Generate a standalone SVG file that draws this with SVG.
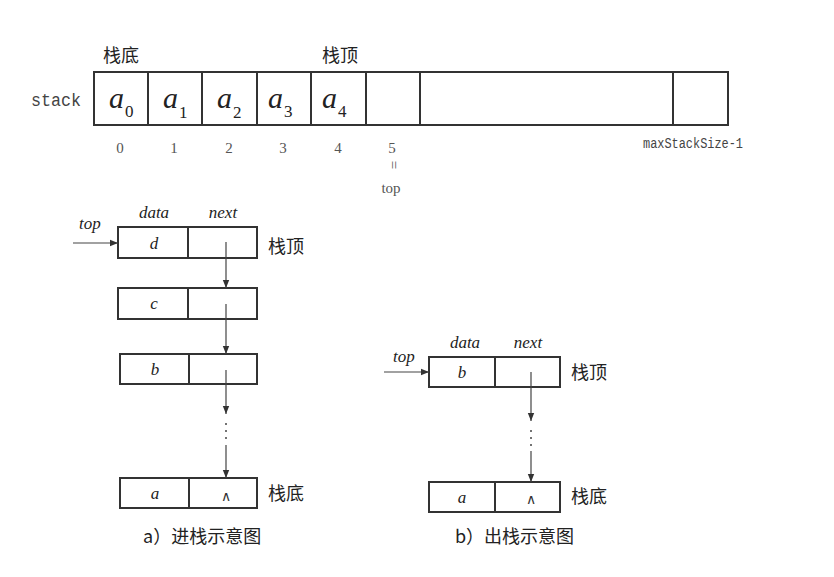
<svg xmlns="http://www.w3.org/2000/svg" width="834" height="577" viewBox="0 0 834 577">
<style>
.box{fill:#fff;stroke:#333;stroke-width:2}
.div{stroke:#333;stroke-width:2}
.ptr{stroke:#444;stroke-width:1.2;fill:none}
.cn{font-family:"Noto Sans CJK SC","Liberation Serif",sans-serif;font-size:18px;fill:#222}
.mono{font-family:"Liberation Mono",monospace;fill:#444}
.it{font-family:"Liberation Serif",serif;font-style:italic;fill:#222}
.ai{font-family:"Liberation Serif",serif;font-style:italic;font-size:30px;fill:#222}
.sub{font-family:"Liberation Serif",serif;font-size:17px;fill:#222}
.num{font-family:"Liberation Serif",serif;font-size:15px;fill:#555;text-anchor:middle}
.dot{fill:#444}
</style>
<defs>
<marker id="ah" viewBox="0 0 10 10" refX="10" refY="5" markerWidth="8" markerHeight="8" markerUnits="userSpaceOnUse" orient="auto">
<path d="M0,1 L10,5 L0,9 Z" fill="#333"/>
</marker>
</defs>

<g id="array">
<rect class="box" x="94" y="72" width="634" height="53"/>
<line class="div" x1="148" y1="72" x2="148" y2="125"/>
<line class="div" x1="202" y1="72" x2="202" y2="125"/>
<line class="div" x1="257" y1="72" x2="257" y2="125"/>
<line class="div" x1="311" y1="72" x2="311" y2="125"/>
<line class="div" x1="366" y1="72" x2="366" y2="125"/>
<line class="div" x1="420" y1="72" x2="420" y2="125"/>
<line class="div" x1="673" y1="72" x2="673" y2="125"/>
<text class="mono" x="31" y="106" font-size="19" fill="#333" textLength="50" lengthAdjust="spacingAndGlyphs">stack</text>
<text class="cn" x="103" y="62">栈底</text>
<text class="cn" x="322" y="62">栈顶</text>
<text class="ai" x="109" y="108">a</text><text class="sub" x="125" y="117">0</text>
<text class="ai" x="163" y="108">a</text><text class="sub" x="179" y="118">1</text>
<text class="ai" x="217" y="108">a</text><text class="sub" x="233" y="118">2</text>
<text class="ai" x="268" y="108">a</text><text class="sub" x="284" y="117">3</text>
<text class="ai" x="322" y="108">a</text><text class="sub" x="338" y="117">4</text>
<text class="num" x="120" y="153">0</text>
<text class="num" x="174" y="153">1</text>
<text class="num" x="229" y="153">2</text>
<text class="num" x="283" y="153">3</text>
<text class="num" x="338" y="153">4</text>
<text class="num" x="392" y="153">5</text>
<text class="num" x="392" y="168" font-size="10" transform="rotate(90 392 165)">=</text>
<text class="num" x="391" y="193">top</text>
<text class="mono" x="643" y="148" font-size="14" textLength="100" lengthAdjust="spacingAndGlyphs">maxStackSize-1</text>
</g>

<g id="nodeD">
<rect class="box" x="118" y="227" width="139" height="31"/>
<line class="div" x1="188" y1="227" x2="188" y2="258"/>
<text class="it" x="154" y="249" font-size="17" text-anchor="middle">d</text>
<text class="it" x="154" y="218" font-size="17" text-anchor="middle">data</text>
<text class="it" x="223" y="218" font-size="17" text-anchor="middle">next</text>
<text class="it" x="79" y="229" font-size="17">top</text>
<text class="cn" x="268" y="253" font-size="19">栈顶</text>
</g>
<g id="nodeC">
<rect class="box" x="118" y="288" width="139" height="31"/>
<line class="div" x1="188" y1="288" x2="188" y2="319"/>
<text class="it" x="154" y="309" font-size="17" text-anchor="middle">c</text>
</g>
<g id="nodeB">
<rect class="box" x="120" y="354" width="137" height="30"/>
<line class="div" x1="189" y1="354" x2="189" y2="384"/>
<text class="it" x="155" y="375" font-size="17" text-anchor="middle">b</text>
</g>
<g id="nodeA">
<rect class="box" x="120" y="478" width="137" height="30"/>
<line class="div" x1="189" y1="478" x2="189" y2="508"/>
<text class="it" x="155" y="499" font-size="17" text-anchor="middle">a</text>
<text x="226" y="501" font-size="14" text-anchor="middle" font-family="Liberation Serif, serif" fill="#333">∧</text>
<text class="cn" x="268" y="500" font-size="19">栈底</text>
</g>
<text class="cn" x="143" y="543" font-size="19">a）进栈示意图</text>

<g id="nodeB2">
<rect class="box" x="429" y="357" width="131" height="30"/>
<line class="div" x1="495" y1="357" x2="495" y2="387"/>
<text class="it" x="462" y="378" font-size="17" text-anchor="middle">b</text>
<text class="it" x="465" y="348" font-size="17" text-anchor="middle">data</text>
<text class="it" x="528" y="348" font-size="17" text-anchor="middle">next</text>
<text class="it" x="393" y="362" font-size="17">top</text>
<text class="cn" x="571" y="379" font-size="19">栈顶</text>
</g>
<g id="nodeA2">
<rect class="box" x="429" y="482" width="131" height="30"/>
<line class="div" x1="495" y1="482" x2="495" y2="512"/>
<text class="it" x="462" y="503" font-size="17" text-anchor="middle">a</text>
<text x="531" y="504" font-size="14" text-anchor="middle" font-family="Liberation Serif, serif" fill="#333">∧</text>
<text class="cn" x="571" y="503" font-size="19">栈底</text>
</g>
<text class="cn" x="455" y="543" font-size="19">b）出栈示意图</text>

<g id="connectors">
<line class="ptr" x1="73" y1="243" x2="118" y2="243" marker-end="url(#ah)"/>
<line class="ptr" x1="226" y1="242" x2="226" y2="288" marker-end="url(#ah)"/>
<line class="ptr" x1="226" y1="304" x2="226" y2="354" marker-end="url(#ah)"/>
<line class="ptr" x1="226" y1="370" x2="226" y2="414" marker-end="url(#ah)"/>
<circle class="dot" cx="226" cy="424" r="1"/>
<circle class="dot" cx="226" cy="431" r="1"/>
<circle class="dot" cx="226" cy="438" r="1"/>
<line class="ptr" x1="226" y1="445" x2="226" y2="478" marker-end="url(#ah)"/>
<line class="ptr" x1="384" y1="372" x2="429" y2="372" marker-end="url(#ah)"/>
<line class="ptr" x1="531" y1="372" x2="531" y2="421" marker-end="url(#ah)"/>
<circle class="dot" cx="531" cy="431" r="1"/>
<circle class="dot" cx="531" cy="438" r="1"/>
<circle class="dot" cx="531" cy="445" r="1"/>
<line class="ptr" x1="531" y1="451" x2="531" y2="482" marker-end="url(#ah)"/>
</g>
</svg>
